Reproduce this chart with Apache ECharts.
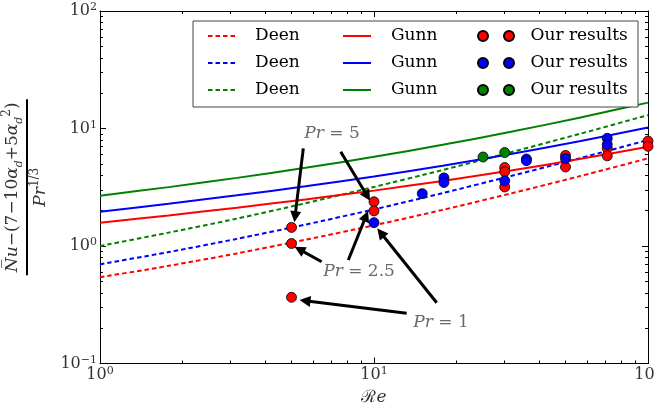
<!DOCTYPE html>
<html><head><meta charset="utf-8">
<script src="https://cdn.jsdelivr.net/npm/echarts@6/dist/echarts.min.js"></script>
<style>html,body{margin:0;padding:0;background:#fff}#c{width:655px;height:410px}</style>
</head><body><div id="c"></div>
<script>
// Correlation curves at quarter-decade Re values
const reGrid    = [1, 1.78, 3.16, 5.62, 10, 17.8, 31.6, 56.2, 100];
const deenRed   = [0.542, 0.678, 0.865, 1.13, 1.50, 2.03, 2.80, 3.92, 5.57];
const deenBlue  = [0.699, 0.888, 1.15, 1.52, 2.05, 2.82, 3.94, 5.57, 7.98];
const deenGreen = [1.00, 1.30, 1.71, 2.31, 3.18, 4.43, 6.28, 8.99, 13.0];
const gunnRed   = [1.58, 1.82, 2.12, 2.49, 2.96, 3.58, 4.39, 5.49, 7.00];
const gunnBlue  = [1.96, 2.29, 2.70, 3.22, 3.91, 4.82, 6.06, 7.78, 10.2];
const gunnGreen = [2.68, 3.17, 3.80, 4.63, 5.74, 7.26, 9.37, 12.35, 16.6];

// Our results
const oursRedRe   = [5, 5, 5, 10, 10, 30, 30, 30, 50, 50, 71, 71, 100, 100];
const oursRedVal  = [1.44, 1.05, 0.366, 2.38, 1.99, 4.65, 4.29, 3.18, 5.9, 4.7, 6.78, 5.85, 7.82, 7.05];
const oursBlueRe  = [10, 15, 18, 18, 30, 36, 36, 50, 71, 71];
const oursBlueVal = [1.58, 2.79, 3.8, 3.47, 3.59, 5.5, 5.32, 5.55, 8.25, 7.3];
const oursGreenRe  = [25, 30];
const oursGreenVal = [5.72, 6.24];

// Annotations
const annotRe   = [7.03, 8.82, 17.56];
const annotVal  = [8.98, 0.601, 0.2234];
const annotText = ['5', '2.5', '1'];
const arrowFrom = [[5.52, 6.78], [7.56, 6.35], [8.06, 0.760], [6.44, 0.735], [13.16, 0.2675], [16.94, 0.329]];
const arrowTo   = [[5.15, 1.776], [9.45, 2.66], [9.35, 1.80], [5.34, 0.937], [5.60, 0.342], [10.58, 1.298]];

const RED = '#ff0000', BLUE = '#0000ff', GREEN = '#008000';
const FONT = "'DejaVu Serif', serif";

function lineSeries(name, ys, color, dashed) {
  return {
    type: 'line', name: name, data: reGrid.map((x, i) => [x, ys[i]]),
    symbol: 'none', showSymbol: false, smooth: 0.25, silent: true, z: 2,
    lineStyle: { color: color, width: 2, type: dashed ? [4.5, 3] : 'solid' },
    itemStyle: { color: color }
  };
}
function scatterSeries(name, xs, ys, color) {
  return {
    type: 'scatter', name: name, data: xs.map((x, i) => [x, ys[i]]),
    symbol: 'circle', symbolSize: 10, clip: true, silent: true, z: 3,
    itemStyle: { color: color, borderColor: '#000', borderWidth: 0.8, opacity: 1 }
  };
}
function minorTicks(a, b) {
  const out = [];
  for (let d = a; d < b; d++) for (let k = 2; k <= 9; k++) out.push(d + Math.log10(k));
  return out;
}
function majorTicks(a, b) { const out = []; for (let d = a; d <= b; d++) out.push(d); return out; }

const supLabel = {
  b: { fontFamily: FONT, fontSize: 16, color: '#333', lineHeight: 18 },
  s: { fontFamily: FONT, fontSize: 11, color: '#333', lineHeight: 11, verticalAlign: 'top' }
};
function powLabel(v) {
  const e = Math.round(Math.log10(v));
  return '{b|10}{s|' + (e < 0 ? '\u2212' + (-e) : e) + '}';
}

const dotsIcon = 'path://M0,5A5,5,0,1,1,10,5A5,5,0,1,1,0,5ZM26,5A5,5,0,1,1,36,5A5,5,0,1,1,26,5Z';
const legendText = { fontFamily: FONT, fontSize: 17, color: '#000', lineHeight: 20 };
function legendCol(left, names, padLeft, extra) {
  return Object.assign({
    orient: 'vertical', left: left, top: 26, padding: 0, itemGap: 7,
    itemWidth: 28, itemHeight: 10, selectedMode: false,
    formatter: n => n.split('|')[0],
    textStyle: Object.assign({ padding: [0, 0, 0, padLeft] }, legendText),
    data: names
  }, extra || {});
}

const frameLine = { show: true, onZero: false, lineStyle: { color: '#000', width: 1 } };
const hiddenAxisBase = {
  axisLine: { show: false, onZero: false }, axisLabel: { show: false }, splitLine: { show: false }, silent: true
};

const option = {
  animation: false,
  backgroundColor: '#fff',
  grid: { left: 100, right: 7, top: 11, bottom: 46.5, containLabel: false, outerBoundsMode: 'none' },
  graphic: [{
    type: 'rect', z: 3, silent: true,
    shape: { x: 193, y: 21, width: 445, height: 86 },
    style: { fill: '#fff', stroke: '#444', lineWidth: 1 }
  }],
  legend: [
    legendCol(207, ['Deen|r', 'Deen|b', 'Deen|g'], 14, { itemStyle: { color: 'rgba(0,0,0,0)', borderWidth: 0, opacity: 0 } }),
    legendCol(342, ['Gunn|r', 'Gunn|b', 'Gunn|g'], 15, { itemStyle: { color: 'rgba(0,0,0,0)', borderWidth: 0, opacity: 0 } }),
    legendCol(477, [
      { name: 'Our results|r', icon: dotsIcon },
      { name: 'Our results|b', icon: dotsIcon },
      { name: 'Our results|g', icon: dotsIcon }
    ], 11, { itemWidth: 37, itemHeight: 10 })
  ],
  xAxis: [
    {
      type: 'log', logBase: 10, min: 1, max: 100, position: 'bottom',
      axisLine: frameLine,
      axisTick: { show: true, inside: true, length: 6, lineStyle: { color: '#000' } },
      splitLine: { show: false },
      axisLabel: { margin: 2, formatter: powLabel, rich: supLabel },
      name: '{c|\u211B}{it|e}', nameLocation: 'middle', nameGap: 26,
      nameTextStyle: { rich: {
        c: { fontFamily: FONT, fontSize: 17, color: '#333' },
        it: { fontFamily: FONT, fontSize: 17, fontStyle: 'italic', color: '#333' } } }
    },
    Object.assign({ type: 'value', min: 0, max: 2, position: 'bottom',
      axisTick: { show: true, inside: true, length: 3, customValues: minorTicks(0, 2), lineStyle: { color: '#000' } } }, hiddenAxisBase),
    Object.assign({ type: 'value', min: 0, max: 2, position: 'top',
      axisTick: { show: true, inside: true, length: 6, customValues: majorTicks(0, 2), lineStyle: { color: '#000' } } },
      hiddenAxisBase, { axisLine: frameLine }),
    Object.assign({ type: 'value', min: 0, max: 2, position: 'top',
      axisTick: { show: true, inside: true, length: 3, customValues: minorTicks(0, 2), lineStyle: { color: '#000' } } }, hiddenAxisBase)
  ],
  yAxis: [
    {
      type: 'log', logBase: 10, min: 0.1, max: 100, position: 'left',
      axisLine: frameLine,
      axisTick: { show: true, inside: true, length: 6, lineStyle: { color: '#000' } },
      splitLine: { show: false },
      axisLabel: { margin: 3, formatter: powLabel, rich: supLabel },
      name: '{it|N\u0305u}{n|\u2212(7\u221210}{it|\u03B1}{sub|d}{n|+5}{it|\u03B1}{sub|d}{sup|2}{n|)}\n{bar| }\n{it|Pr}{sup|1/3}',
      nameLocation: 'middle', nameRotate: 90, nameGap: 41,
      nameTextStyle: { align: 'center', rich: {
        n: { fontFamily: FONT, fontSize: 17, color: '#333', lineHeight: 24 },
        it: { fontFamily: FONT, fontSize: 17, fontStyle: 'italic', color: '#333', lineHeight: 24 },
        sub: { fontFamily: FONT, fontSize: 11, fontStyle: 'italic', color: '#333', lineHeight: 12, verticalAlign: 'bottom' },
        sup: { fontFamily: FONT, fontSize: 12, color: '#333', lineHeight: 12, verticalAlign: 'top' },
        bar: { width: 176, height: 2, lineHeight: 4, backgroundColor: '#000', fontSize: 2 }
      } }
    },
    Object.assign({ type: 'value', min: -1, max: 2, position: 'left',
      axisTick: { show: true, inside: true, length: 3, customValues: minorTicks(-1, 2), lineStyle: { color: '#000' } } }, hiddenAxisBase),
    Object.assign({ type: 'value', min: -1, max: 2, position: 'right',
      axisTick: { show: true, inside: true, length: 6, customValues: majorTicks(-1, 2), lineStyle: { color: '#000' } } },
      hiddenAxisBase, { axisLine: frameLine }),
    Object.assign({ type: 'value', min: -1, max: 2, position: 'right',
      axisTick: { show: true, inside: true, length: 3, customValues: minorTicks(-1, 2), lineStyle: { color: '#000' } } }, hiddenAxisBase)
  ],
  series: [
    lineSeries('Deen|r', deenRed, RED, true),
    lineSeries('Deen|b', deenBlue, BLUE, true),
    lineSeries('Deen|g', deenGreen, GREEN, true),
    lineSeries('Gunn|r', gunnRed, RED, false),
    lineSeries('Gunn|b', gunnBlue, BLUE, false),
    lineSeries('Gunn|g', gunnGreen, GREEN, false),
    scatterSeries('Our results|r', oursRedRe, oursRedVal, RED),
    scatterSeries('Our results|b', oursBlueRe, oursBlueVal, BLUE),
    scatterSeries('Our results|g', oursGreenRe, oursGreenVal, GREEN),
    {
      type: 'scatter', name: 'annotations', silent: true, z: 4,
      data: annotRe.map((x, i) => [x, annotVal[i]]),
      symbolSize: 1, itemStyle: { color: 'rgba(0,0,0,0)' },
      label: {
        show: true, position: 'inside',
        formatter: p => '{it|Pr}{n| = ' + annotText[p.dataIndex] + '}',
        rich: {
          it: { fontFamily: FONT, fontSize: 17, fontStyle: 'italic', color: '#444' },
          n: { fontFamily: FONT, fontSize: 17, color: '#444' }
        }
      },
      markLine: {
        silent: true, animation: false, symbol: ['none', 'triangle'], symbolSize: 11,
        label: { show: false },
        lineStyle: { color: '#000', width: 3, type: 'solid' },
        data: arrowFrom.map((a, i) => [{ coord: a }, { coord: arrowTo[i] }])
      }
    }
  ]
};
const chart = echarts.init(document.getElementById('c'));
chart.setOption(option);
</script>
</body></html>
